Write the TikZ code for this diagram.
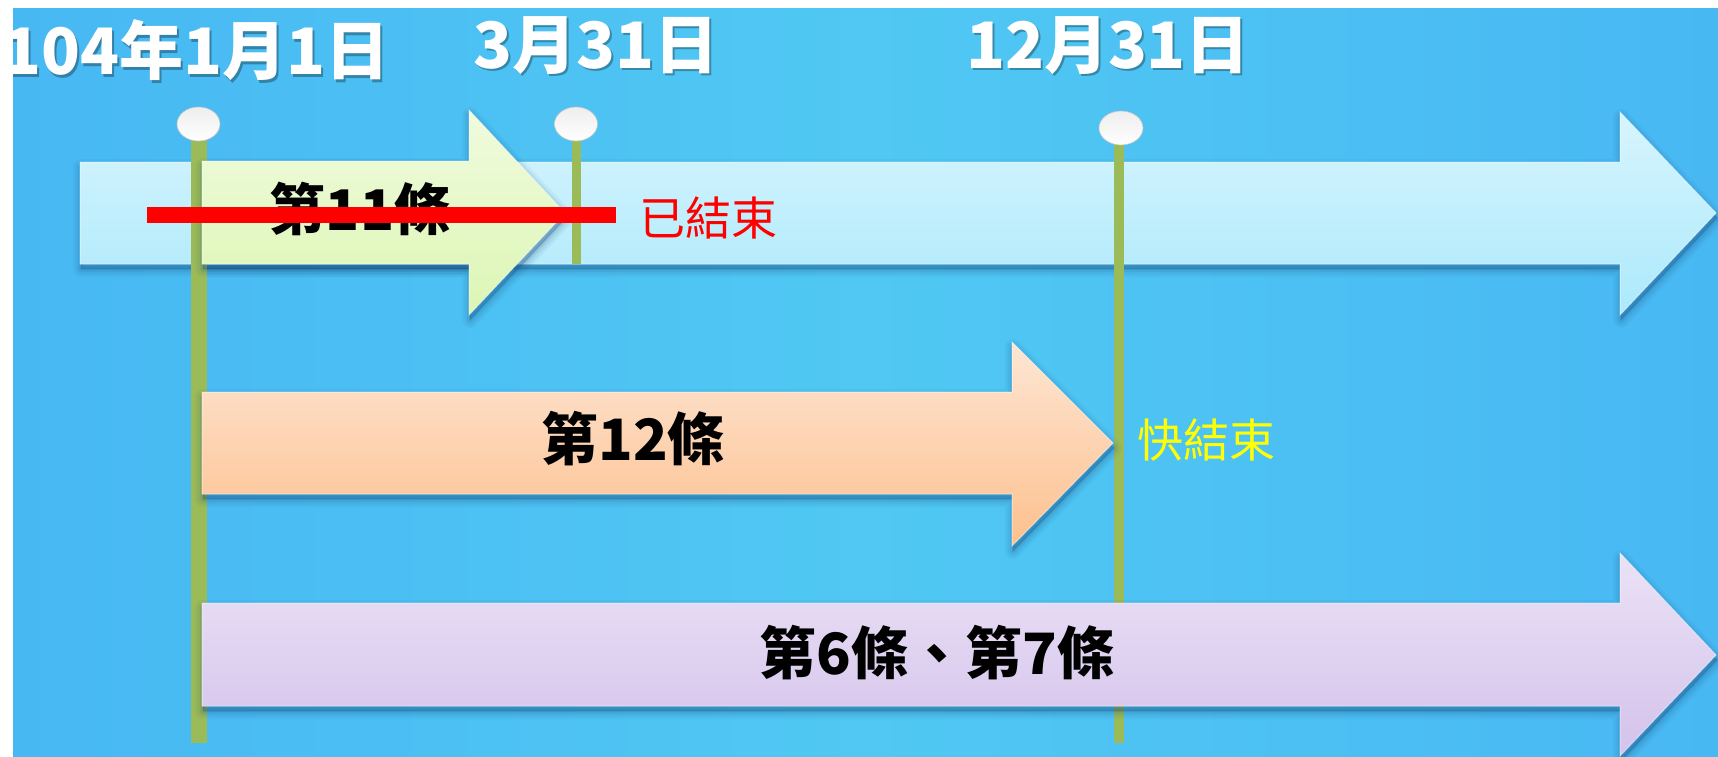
\documentclass[tikz,border=0pt]{standalone}
\usepackage{fontspec}
\newfontfamily\cjk{Noto Sans CJK TC}
\definecolor{bgL}{RGB}{63,168,242}
\definecolor{bgM}{RGB}{80,200,243}
\definecolor{bgR}{RGB}{64,168,244}
\definecolor{shadowc}{RGB}{25,75,125}
\definecolor{polec}{RGB}{155,187,89}
\definecolor{cyanT}{RGB}{215,245,253}
\definecolor{cyanB}{RGB}{172,233,252}
\definecolor{greenT}{RGB}{240,251,222}
\definecolor{greenB}{RGB}{220,246,180}
\definecolor{orangeT}{RGB}{253,230,212}
\definecolor{orangeB}{RGB}{253,192,142}
\definecolor{purpleT}{RGB}{235,226,246}
\definecolor{purpleB}{RGB}{212,194,235}
\definecolor{yel}{RGB}{255,255,0}
\definecolor{pinT}{RGB}{238,238,238}
\definecolor{pinM}{RGB}{196,196,196}
\definecolor{pinB}{RGB}{255,255,255}
\pgfdeclarehorizontalshading{bgshade}{100bp}{color(0bp)=(bgL); color(50bp)=(bgM); color(100bp)=(bgR)}
\newcommand\arrowshape[9]{\path[#1] (#2,#3) -- (#5,#3) -- (#5,#6) -- (#8,#9) -- (#5,#7) -- (#5,#4) -- (#2,#4) -- cycle;}
\newcommand\shadowedarrow[9]{%
  \foreach \w/\o in {16/0.05,11/0.07,6/0.09,2/0.12}{%
    \arrowshape{fill=shadowc, draw=shadowc, line width=\w pt, opacity=\o, line join=round, shift={(1,5)}}{#2}{#3}{#4}{#5}{#6}{#7}{#8}{#9}}%
  \arrowshape{#1}{#2}{#3}{#4}{#5}{#6}{#7}{#8}{#9}%
  \arrowshape{draw=white, opacity=0.45, line width=1pt}{#2}{#3}{#4}{#5}{#6}{#7}{#8}{#9}}
\tikzset{
  polebar/.style={fill=polec},
  pin/.style={top color=pinT, middle color=pinM, bottom color=pinB, draw=gray!45, line width=0.6pt},
  datelbl/.style={inner sep=0pt, text=white, font=\cjk\bfseries\fontsize{64}{70}\selectfont},
  datesh/.style={inner sep=0pt, text=black, opacity=0.3, font=\cjk\bfseries\fontsize{64}{70}\selectfont},
  artlbl/.style={inner sep=0pt, text=black, font=\cjk\bfseries\fontsize{57}{62}\selectfont},
  notelbl/.style={inner sep=0pt, font=\cjk\fontsize{46}{50}\selectfont}
}
\begin{document}
\begin{tikzpicture}[x=1pt,y=-1pt]
\useasboundingbox (0,0) rectangle (1718,757);
\fill[white] (0,0) rectangle (1718,757);
\begin{scope}
\clip (13,9) rectangle (1718,757);
\shade[shading=bgshade] (13,9) rectangle (1718,757);
% top long arrow
\shadowedarrow{top color=cyanT, bottom color=cyanB}{80}{162}{264}{1620}{112}{315}{1716}{213}
% poles
\fill[polebar] (191,138) rectangle (207,743);
\fill[polebar] (571.5,138) rectangle (580.5,264);
\fill[polebar] (1113.5,143) rectangle (1123.5,743);
% other arrows
\shadowedarrow{top color=greenT, bottom color=greenB}{202}{161}{264}{469}{110}{315}{565}{213}
\shadowedarrow{top color=orangeT, bottom color=orangeB}{202}{392}{494}{1012}{342}{546}{1113}{443}
\shadowedarrow{top color=purpleT, bottom color=purpleB}{202}{603}{706}{1620}{553}{756}{1716}{655}
% pins
\shade[pin] (198.5,124) ellipse [x radius=21.5, y radius=17];
\shade[pin] (576,124) ellipse [x radius=21.5, y radius=17];
\shade[pin] (1121,128) ellipse [x radius=22, y radius=17];
% date labels
\node[datesh, anchor=east] (d1s) at (392,53) {104年1月1日};
\node[datelbl, anchor=east] (d1) at (390,50) {104年1月1日};
\node[datesh] (d2s) at (598,48) {3月31日};
\node[datelbl] (d2) at (596,46) {3月31日};
\node[datesh] (d3s) at (1110,48) {12月31日};
\node[datelbl] (d3) at (1108,46) {12月31日};
% article labels
\node[artlbl, font=\cjk\bfseries\fontsize{56}{60}\selectfont] (a11) at (360,209) {第11條};
\node[artlbl] (a12) at (633,439) {第12條};
\node[artlbl] (a67) at (937,653) {第6條、第7條};
% notes
\coordinate (sL) at (147,215);
\coordinate (sR) at (616,215);
\draw[red, line width=16pt] (sL) -- (sR);
\node[notelbl, text=red] (n1) at (708,218) {已結束};
\node[notelbl, text=yel] (n2) at (1206,440) {快結束};
\end{scope}
\end{tikzpicture}
\end{document}
